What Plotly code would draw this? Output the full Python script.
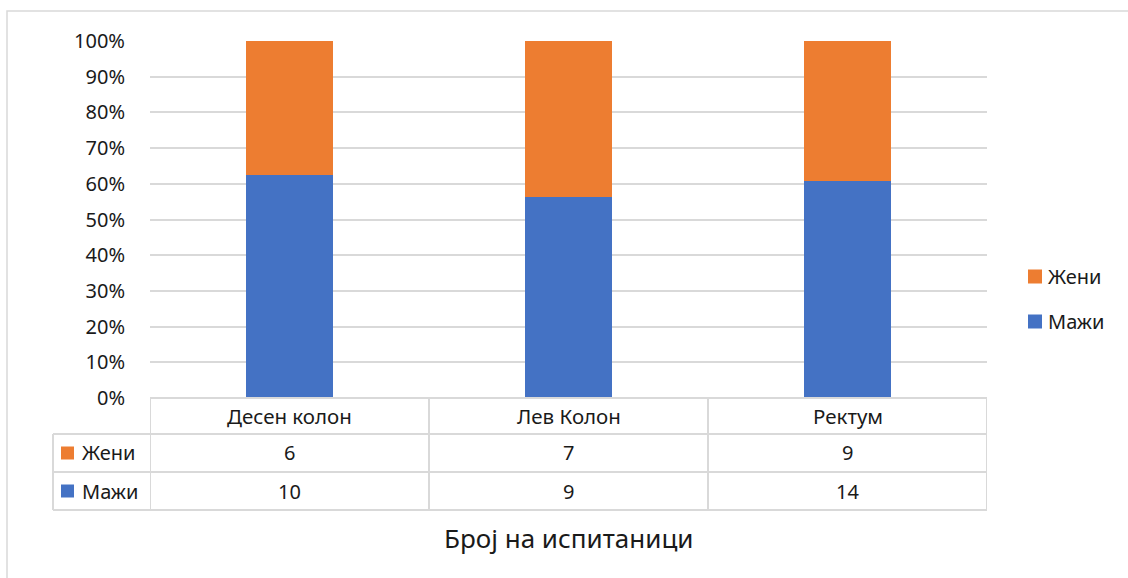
import plotly.graph_objects as go

# Број на испитаници по локализација и пол
categories = ["Десен колон", "Лев Колон", "Ректум"]
zeni = [6, 7, 9]
mazi = [10, 9, 14]
y_tick_step = 10  # проценти

BLUE = "#4472C4"
ORANGE = "#ED7D31"
GRID = "#D9D9D9"
TEXT = "#1a1a1a"
FONT = "Noto Sans"

W, H = 1128, 578
PL, PR, PT, PB = 150, 987, 41, 398  # plot area in pixels


def px(x):
    return (x - PL) / (PR - PL)


def py(y):
    return (PB - y) / (PB - PT)


def label(x, y, text, xref="paper", size=20, xanchor="center"):
    return dict(x=x, y=y, xref=xref, yref="paper", text=text, showarrow=False,
                xanchor=xanchor, yanchor="middle",
                font=dict(size=size, color=TEXT, family=FONT))


fig = go.Figure()
fig.add_trace(go.Bar(name="Мажи", x=categories, y=mazi, marker_color=BLUE,
                     marker_line_width=0))
fig.add_trace(go.Bar(name="Жени", x=categories, y=zeni, marker_color=ORANGE,
                     marker_line_width=0))

shapes = []
annotations = []

# outer chart border
shapes.append(dict(type="rect", xref="paper", yref="paper",
                   x0=px(7), x1=px(1140), y0=py(11), y1=py(600),
                   line=dict(color=GRID, width=1.5), layer="below"))

# data table grid
row_lines = [398, 434, 472, 510]
for i, yy in enumerate(row_lines):
    if i == 0:
        shapes.append(dict(type="line", xref="x", yref="paper",
                           x0=-0.5, x1=len(categories) - 0.5, y0=py(yy), y1=py(yy),
                           line=dict(color=GRID, width=2)))
    else:
        shapes.append(dict(type="line", xref="paper", yref="paper",
                           x0=px(53), x1=1, y0=py(yy), y1=py(yy),
                           line=dict(color=GRID, width=2)))
for k in range(len(categories) + 1):
    shapes.append(dict(type="line", xref="x", yref="paper",
                       x0=k - 0.5, x1=k - 0.5, y0=py(398), y1=py(510),
                       line=dict(color=GRID, width=2)))
shapes.append(dict(type="line", xref="paper", yref="paper",
                   x0=px(53), x1=px(53), y0=py(434), y1=py(510),
                   line=dict(color=GRID, width=2)))

# category header row and value rows
for i, c in enumerate(categories):
    annotations.append(label(i, py(416), c, xref="x", size=20.5))
    annotations.append(label(i, py(453), str(zeni[i]), xref="x"))
    annotations.append(label(i, py(491), str(mazi[i]), xref="x"))

# row keys in the table
for name, color, yc in [("Жени", ORANGE, 453), ("Мажи", BLUE, 491)]:
    shapes.append(dict(type="rect", xref="paper", yref="paper",
                       x0=px(61), x1=px(74), y0=py(yc - 6.5), y1=py(yc + 6.5),
                       fillcolor=color, line=dict(width=0)))
    annotations.append(label(px(80), py(yc), name, xanchor="left"))

# legend on the right
for name, color, yc in [("Жени", ORANGE, 276.5), ("Мажи", BLUE, 321.5)]:
    shapes.append(dict(type="rect", xref="paper", yref="paper",
                       x0=px(1028), x1=px(1042), y0=py(yc - 7), y1=py(yc + 7),
                       fillcolor=color, line=dict(width=0)))
    annotations.append(label(px(1046), py(yc), name, xanchor="left"))

# axis title
annotations.append(label(0.5, py(538), "Број на испитаници", size=26))

fig.update_layout(
    barmode="stack",
    barnorm="percent",
    bargap=0.69,
    width=W, height=H,
    margin=dict(l=PL, r=W - PR, t=PT, b=H - PB, pad=0),
    paper_bgcolor="white",
    plot_bgcolor="white",
    showlegend=False,
    font=dict(family=FONT, color=TEXT),
    shapes=shapes,
    annotations=annotations,
)
fig.update_xaxes(showticklabels=False, showgrid=False, showline=False, ticks="",
                 range=[-0.5, len(categories) - 0.5])
fig.update_yaxes(range=[0, 100], tickmode="linear", tick0=0, dtick=y_tick_step,
                 ticksuffix="%", showticksuffix="all",
                 showgrid=True, gridcolor=GRID, gridwidth=2, zeroline=False,
                 showline=False, ticks="", ticklabelstandoff=24,
                 tickfont=dict(size=20, color=TEXT, family=FONT))

fig.write_html("out.html")
